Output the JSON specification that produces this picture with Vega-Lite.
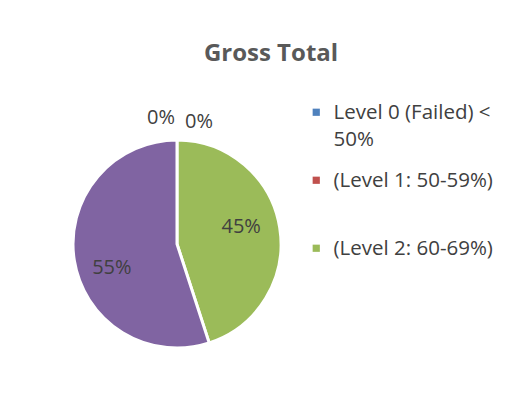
{
  "$schema": "https://vega.github.io/schema/vega-lite/v6.json",
  "autosize": {"type": "none"},
  "padding": {"left": 0, "top": 80, "right": 170, "bottom": 4},
  "width": 354,
  "height": 328,
  "background": "white",
  "config": {
    "view": {"stroke": null},
    "style": {"guide-label": {"lineHeight": 27, "dy": -9}}
  },
  "title": {
    "text": "Gross Total",
    "font": "Open Sans",
    "fontSize": 24,
    "fontWeight": "bold",
    "color": "#595959",
    "anchor": "middle",
    "frame": "group",
    "dx": 94,
    "offset": 14
  },
  "data": {
    "values": [
      {"level": "Level 0 (Failed) < 50%", "rank": 1, "pct": 0},
      {"level": "(Level 1: 50-59%)", "rank": 2, "pct": 0},
      {"level": "(Level 2: 60-69%)", "rank": 3, "pct": 45},
      {"level": "(Level 3: 70-79%)", "rank": 4, "pct": 55}
    ]
  },
  "transform": [{"calculate": "datum.pct + '%'", "as": "lbl"}],
  "encoding": {
    "theta": {"field": "pct", "type": "quantitative", "stack": true},
    "order": {"field": "rank", "type": "quantitative"}
  },
  "layer": [
    {
      "mark": {"type": "arc", "outerRadius": 104, "stroke": "white", "strokeWidth": 3},
      "encoding": {
        "color": {
          "field": "level",
          "type": "nominal",
          "scale": {
            "domain": ["Level 0 (Failed) < 50%", "(Level 1: 50-59%)", "(Level 2: 60-69%)", "(Level 3: 70-79%)"],
            "range": ["#4F81BD", "#C0504D", "#9BBB59", "#8064A2"]
          },
          "legend": {
            "title": null,
            "orient": "none",
            "legendX": 306,
            "legendY": 22,
            "values": ["Level 0 (Failed) < 50%", "(Level 1: 50-59%)", "(Level 2: 60-69%)"],
            "labelExpr": "datum.label == 'Level 0 (Failed) < 50%' ? ['Level 0 (Failed) <', '50%'] : datum.label",
            "symbolType": "square",
            "symbolSize": 52,
            "symbolStrokeWidth": 0,
            "labelFont": "Open Sans",
            "labelFontSize": 20.5,
            "labelColor": "#404040",
            "labelOffset": 7,
            "labelLimit": 300,
            "labelBaseline": "top",
            "gridAlign": "all",
            "rowPadding": 19
          }
        }
      }
    },
    {
      "transform": [{"calculate": "datum.rank == 3 ? datum.lbl : ''", "as": "t"}],
      "mark": {"type": "text", "radius": 68, "dx": -3, "dy": -6, "font": "Open Sans", "fontSize": 20, "color": "#404040"},
      "encoding": {"text": {"field": "t", "type": "nominal"}}
    },
    {
      "transform": [{"calculate": "datum.rank == 4 ? datum.lbl : ''", "as": "t"}],
      "mark": {"type": "text", "radius": 68, "dx": 2, "dy": 13, "font": "Open Sans", "fontSize": 20, "color": "#404040"},
      "encoding": {"text": {"field": "t", "type": "nominal"}}
    },
    {
      "transform": [{"calculate": "datum.rank == 1 ? datum.lbl : ''", "as": "t"}],
      "mark": {"type": "text", "radius": 126, "dx": -16, "font": "Open Sans", "fontSize": 20, "color": "#404040"},
      "encoding": {"text": {"field": "t", "type": "nominal"}}
    },
    {
      "transform": [{"calculate": "datum.rank == 2 ? datum.lbl : ''", "as": "t"}],
      "mark": {"type": "text", "radius": 126, "dx": 22, "dy": 4, "font": "Open Sans", "fontSize": 20, "color": "#404040"},
      "encoding": {"text": {"field": "t", "type": "nominal"}}
    }
  ]
}
